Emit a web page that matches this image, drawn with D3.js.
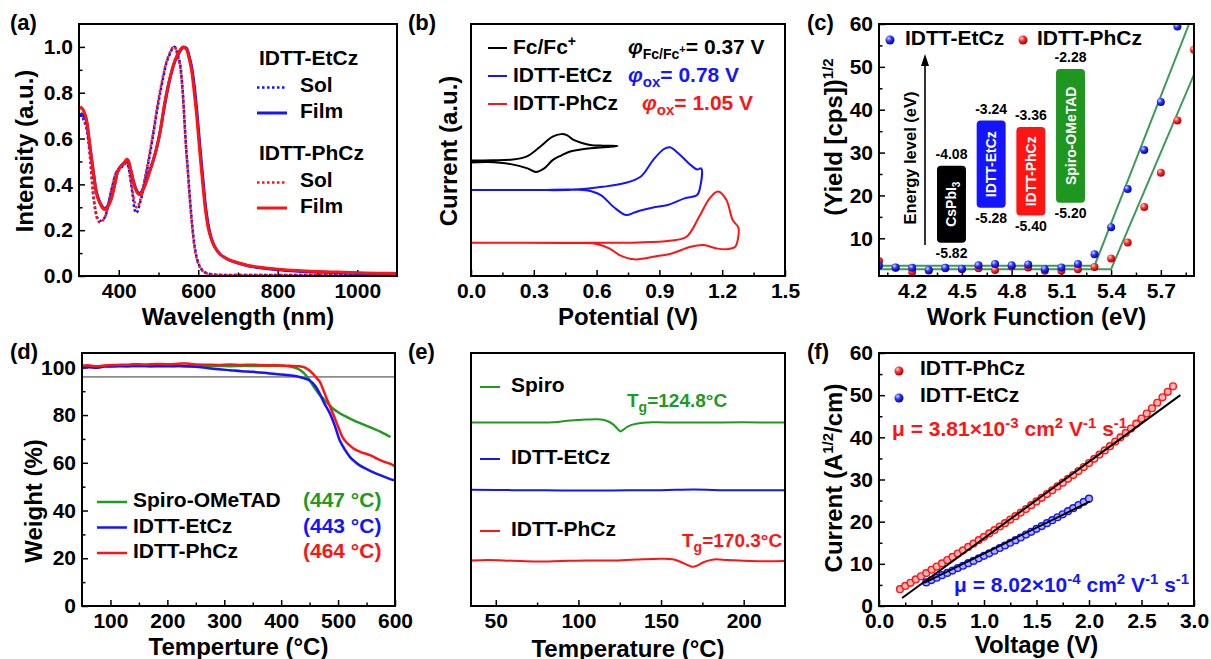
<!DOCTYPE html>
<html>
<head>
<meta charset="utf-8">
<script src="https://cdn.jsdelivr.net/npm/d3@7"></script>
<style>
  body { margin: 0; background: #fff; }
  svg text { font-family: Arial, "Liberation Sans", sans-serif; font-weight: bold; }
</style>
</head>
<body>
<div id="chart"></div>
<script>
/*
* Six panel materials figure: absorption, CV, PESA, TGA, DSC, SCLC
*/

const BLUE = '#1414ff';
const RED = '#ff1414';
const GREEN = '#1f9a1f';
const FIT = '#3c9a58';

// (a) UV-vis absorption
const filmWl = [300, 306, 312, 318, 324, 331, 338, 344, 352, 360, 365, 372, 381, 390, 398, 406, 414, 420, 424, 428, 432, 436, 442, 448, 453, 458, 465, 475, 491, 503, 516, 528, 541, 552, 562, 570, 577, 583, 590, 596, 600, 606, 612, 618, 625, 633, 642, 655, 675, 700, 726, 760, 800, 850, 900, 950, 1000, 1050, 1100];
const filmEt = [0.70, 0.705, 0.70, 0.68, 0.61, 0.52, 0.43, 0.365, 0.325, 0.30, 0.295, 0.305, 0.34, 0.40, 0.46, 0.48, 0.495, 0.505, 0.50, 0.475, 0.45, 0.42, 0.385, 0.365, 0.36, 0.37, 0.395, 0.445, 0.53, 0.62, 0.75, 0.855, 0.935, 0.975, 0.998, 0.995, 0.96, 0.915, 0.83, 0.73, 0.65, 0.53, 0.42, 0.31, 0.225, 0.165, 0.126, 0.095, 0.072, 0.056, 0.044, 0.035, 0.027, 0.021, 0.017, 0.014, 0.012, 0.010, 0.009];
const filmPh = [0.73, 0.735, 0.72, 0.69, 0.62, 0.52, 0.43, 0.36, 0.32, 0.295, 0.29, 0.30, 0.335, 0.40, 0.46, 0.48, 0.495, 0.51, 0.505, 0.48, 0.45, 0.42, 0.38, 0.36, 0.355, 0.365, 0.39, 0.44, 0.53, 0.62, 0.76, 0.86, 0.94, 0.98, 1.0, 0.99, 0.95, 0.90, 0.80, 0.70, 0.62, 0.50, 0.39, 0.29, 0.21, 0.16, 0.124, 0.095, 0.073, 0.058, 0.046, 0.037, 0.030, 0.024, 0.020, 0.017, 0.014, 0.012, 0.011];
const solWl = [300, 306, 312, 318, 323, 329, 335, 341, 347, 352, 358, 365, 371, 377, 385, 394, 402, 410, 416, 420, 424, 428, 432, 436, 440, 444, 448, 452, 457, 465, 474, 486, 499, 510, 520, 530, 536, 541, 546, 550, 554, 558, 562, 566, 570, 574, 579, 585, 591, 597, 603, 608, 615, 622, 633, 650, 700, 800, 900, 1000, 1100];
const solEt = [0.70, 0.70, 0.68, 0.65, 0.60, 0.50, 0.37, 0.29, 0.25, 0.24, 0.245, 0.256, 0.29, 0.34, 0.40, 0.45, 0.465, 0.48, 0.49, 0.495, 0.48, 0.44, 0.39, 0.34, 0.29, 0.275, 0.285, 0.31, 0.34, 0.41, 0.49, 0.61, 0.75, 0.85, 0.93, 0.975, 0.995, 1.0, 0.98, 0.955, 0.93, 0.87, 0.78, 0.66, 0.55, 0.46, 0.34, 0.22, 0.13, 0.075, 0.045, 0.03, 0.018, 0.012, 0.008, 0.005, 0.004, 0.004, 0.004, 0.004, 0.004];
const solPh = [0.72, 0.71, 0.69, 0.655, 0.60, 0.50, 0.37, 0.29, 0.245, 0.235, 0.24, 0.256, 0.29, 0.34, 0.40, 0.455, 0.47, 0.485, 0.49, 0.495, 0.48, 0.45, 0.40, 0.355, 0.32, 0.30, 0.30, 0.32, 0.35, 0.42, 0.50, 0.62, 0.76, 0.86, 0.935, 0.98, 0.998, 1.0, 0.975, 0.95, 0.92, 0.86, 0.77, 0.65, 0.54, 0.45, 0.33, 0.21, 0.12, 0.07, 0.042, 0.028, 0.017, 0.011, 0.007, 0.005, 0.004, 0.004, 0.004, 0.004, 0.004];

// (b) cyclic voltammetry, closed loops (V, current a.u.)
const cvFcV = [0, 0.10, 0.20, 0.27, 0.33, 0.39, 0.43, 0.46, 0.49, 0.53, 0.57, 0.63, 0.70, 0.65, 0.57, 0.51, 0.47, 0.43, 0.39, 0.35, 0.31, 0.27, 0.19, 0.08, 0];
const cvFcI = [4.58, 4.59, 4.62, 4.76, 5.13, 5.53, 5.63, 5.58, 5.40, 5.28, 5.20, 5.17, 5.16, 5.12, 5.07, 5.00, 4.93, 4.78, 4.60, 4.27, 4.13, 4.27, 4.44, 4.52, 4.50];
const cvEtV = [0, 0.30, 0.48, 0.63, 0.73, 0.81, 0.87, 0.92, 0.95, 0.99, 1.05, 1.08, 1.10, 1.095, 1.08, 1.02, 0.94, 0.87, 0.81, 0.78, 0.74, 0.68, 0.62, 0.55, 0.30, 0];
const cvEtI = [3.41, 3.41, 3.42, 3.54, 3.68, 3.94, 4.60, 5.03, 5.11, 4.87, 4.40, 4.23, 4.27, 3.54, 3.21, 3.08, 2.82, 2.72, 2.60, 2.52, 2.42, 2.75, 3.21, 3.40, 3.41, 3.41];
const cvPhV = [0, 0.40, 0.80, 0.95, 1.03, 1.09, 1.14, 1.18, 1.22, 1.25, 1.277, 1.278, 1.262, 1.22, 1.17, 1.11, 1.05, 0.95, 0.89, 0.78, 0.71, 0.66, 0.60, 0.50, 0];
const cvPhI = [1.32, 1.32, 1.33, 1.40, 1.56, 2.35, 3.08, 3.35, 3.02, 2.22, 1.93, 1.63, 1.16, 1.06, 1.10, 1.23, 1.16, 0.87, 0.79, 0.66, 0.83, 1.10, 1.27, 1.31, 1.32];

// (c) photoelectron yield
const wfEt = [4.0, 4.1, 4.2, 4.3, 4.4, 4.5, 4.6, 4.7, 4.8, 4.9, 5.0, 5.1, 5.2, 5.3, 5.4, 5.5, 5.6, 5.7, 5.8];
const yieldEt = [3.6, 3.2, 3.1, 2.6, 3.1, 2.9, 3.7, 4.0, 3.7, 3.9, 2.8, 3.2, 4.0, 6.3, 12.6, 21.5, 30.6, 41.8, 59.4];
const wfPh = [4.0, 4.1, 4.2, 4.3, 4.4, 4.5, 4.6, 4.7, 4.8, 4.9, 5.0, 5.1, 5.2, 5.3, 5.4, 5.5, 5.6, 5.7, 5.8, 5.9];
const yieldPh = [4.7, 3.1, 2.2, 2.5, 3.0, 2.8, 3.0, 2.6, 3.4, 3.2, 2.4, 2.4, 2.8, 3.3, 5.3, 9.0, 17.3, 25.3, 37.5, 54.0];
const fitEtX = [4.0, 5.30, 5.87];
const fitEtY = [3.6, 3.6, 60];
const fitPhX = [4.0, 5.40, 5.90];
const fitPhY = [2.8, 2.8, 48.2];
// energy level inset
const levelNames = ['CsPbI3', 'IDTT-EtCz', 'IDTT-PhCz', 'Spiro-OMeTAD'];
const levelLumo = [-4.08, -3.24, -3.36, -2.28];
const levelHomo = [-5.82, -5.28, -5.40, -5.20];
const levelColors = ['#000000', '#1414ff', '#ff1414', '#1f961f'];

// (d) TGA
const tgaSpT = [50, 70, 90, 110, 130, 150, 170, 190, 210, 230, 250, 270, 290, 310, 330, 350, 370, 390, 400, 410, 420, 430, 440, 447, 456, 465, 474, 483, 492, 500, 515, 530, 545, 560, 575, 592];
const tgaSpW = [100.5, 100.3, 100.6, 100.4, 100.5, 100.6, 100.5, 100.4, 100.6, 100.5, 100.6, 100.5, 100.6, 100.5, 100.6, 100.6, 100.6, 100.6, 100.6, 100.5, 100.1, 99.3, 97.6, 95.6, 92.3, 89.3, 86.9, 84.6, 82.5, 81.2, 79.2, 77.5, 76.0, 74.5, 73.0, 70.8];
const tgaEtT = [50, 60, 75, 90, 110, 130, 150, 170, 190, 210, 230, 250, 270, 290, 310, 330, 350, 370, 390, 410, 427, 440, 450, 460, 468, 476, 486, 495, 503, 512, 521, 530, 538, 550, 562, 574, 586, 600];
const tgaEtW = [99.6, 100.0, 99.8, 100.3, 100.5, 100.5, 100.6, 100.5, 100.6, 100.5, 100.5, 100.2, 99.7, 99.2, 98.8, 98.4, 98.1, 97.7, 97.2, 96.8, 96.3, 95.4, 94.5, 92.2, 88.8, 84.8, 80.5, 75.0, 69.3, 65.5, 62.4, 60.4, 58.9, 57.4, 56.0, 54.8, 53.7, 52.5];
const tgaPhT = [50, 60, 75, 90, 110, 130, 140, 160, 180, 200, 220, 234, 250, 270, 290, 310, 330, 350, 370, 390, 410, 421, 432, 440, 448, 456, 462, 468, 474, 480, 486, 492, 500, 509, 518, 527, 540, 556, 575, 597, 600];
const tgaPhW = [100.6, 100.9, 100.4, 100.8, 101.0, 101.1, 101.3, 101.2, 101.4, 101.3, 101.5, 101.6, 101.2, 101.1, 101.0, 101.2, 101.0, 101.1, 100.9, 100.9, 100.7, 100.6, 100.4, 100.1, 99.0, 97.3, 95.6, 93.9, 90.5, 86.9, 83.5, 80.0, 75.2, 70.2, 67.8, 66.0, 64.5, 63.2, 61.0, 59.0, 58.3];
const tgaRef = 96;
const tdNames = ['Spiro-OMeTAD', 'IDTT-EtCz', 'IDTT-PhCz'];
const tdValues = ['(447 °C)', '(443 °C)', '(464 °C)'];

// (e) DSC (heat flow, a.u.)
const dscSpT = [35, 50, 70, 85, 95, 105, 112, 117, 121, 124, 125.5, 127, 130, 135, 145, 160, 180, 200, 225];
const dscSpH = [7.25, 7.25, 7.25, 7.26, 7.33, 7.37, 7.38, 7.32, 7.18, 6.98, 6.90, 6.96, 7.10, 7.20, 7.26, 7.25, 7.25, 7.26, 7.25];
const dscEtT = [35, 60, 90, 120, 150, 170, 185, 225];
const dscEtH = [4.59, 4.58, 4.57, 4.57, 4.58, 4.60, 4.58, 4.58];
const dscPhT = [35, 45, 60, 75, 90, 105, 120, 135, 150, 157, 162, 166, 169, 172, 176, 182, 190, 200, 212, 225];
const dscPhH = [1.80, 1.82, 1.79, 1.76, 1.78, 1.80, 1.80, 1.84, 1.87, 1.85, 1.74, 1.62, 1.55, 1.60, 1.74, 1.84, 1.82, 1.79, 1.77, 1.78];

// (f) SCLC
const sclcPhV = [0.20, 0.25, 0.30, 0.35, 0.40, 0.45, 0.50, 0.55, 0.60, 0.65, 0.70, 0.75, 0.80, 0.85, 0.90, 0.95, 1.00, 1.05, 1.10, 1.15, 1.20, 1.25, 1.30, 1.35, 1.40, 1.45, 1.50, 1.55, 1.60, 1.65, 1.70, 1.75, 1.80, 1.85, 1.90, 1.95, 2.00, 2.05, 2.10, 2.15, 2.20, 2.25, 2.30, 2.35, 2.40, 2.45, 2.50, 2.55, 2.60, 2.65, 2.70, 2.75, 2.80];
const sclcPhI = [4.0, 4.75, 5.5, 6.3, 7.05, 7.8, 8.6, 9.35, 10.1, 10.9, 11.65, 12.45, 13.2, 14.0, 14.8, 15.6, 16.4, 17.2, 18.0, 18.85, 19.65, 20.5, 21.3, 22.15, 23.0, 23.9, 24.8, 25.65, 26.55, 27.45, 28.35, 29.25, 30.15, 31.05, 32.0, 32.95, 33.9, 34.9, 35.9, 36.9, 37.9, 39.0, 40.0, 41.05, 42.1, 43.25, 44.45, 45.65, 46.9, 48.2, 49.5, 50.8, 52.1];
const sclcEtV = [0.45, 0.50, 0.55, 0.60, 0.65, 0.70, 0.75, 0.80, 0.85, 0.90, 0.95, 1.00, 1.05, 1.10, 1.15, 1.20, 1.25, 1.30, 1.35, 1.40, 1.45, 1.50, 1.55, 1.60, 1.65, 1.70, 1.75, 1.80, 1.85, 1.90, 1.95, 2.00];
const sclcEtI = [5.6, 6.15, 6.7, 7.3, 7.85, 8.4, 9.0, 9.55, 10.15, 10.7, 11.3, 11.9, 12.5, 13.1, 13.75, 14.35, 15.0, 15.6, 16.25, 16.95, 17.6, 18.3, 18.95, 19.65, 20.35, 21.05, 21.75, 22.5, 23.2, 23.95, 24.7, 25.45];
const sclcFitPhV = [0.22, 2.87];
const sclcFitPhI = [1.9, 50.0];
const sclcFitEtV = [0.43, 2.01];
const sclcFitEtI = [5.5, 24.8];

let svg = d3.select('#chart').append('svg')
  .attr('width', 1211)
  .attr('height', 659);
let defs = svg.append('defs');

function sphere(id, light, mid, dark) {
  let gr = defs.append('radialGradient').attr('id', id)
    .attr('cx', '35%').attr('cy', '32%').attr('r', '70%');
  gr.append('stop').attr('offset', '0%').attr('stop-color', light);
  gr.append('stop').attr('offset', '45%').attr('stop-color', mid);
  gr.append('stop').attr('offset', '100%').attr('stop-color', dark);
}
sphere('ballBlue', '#d8dcff', '#2a36ff', '#0000a8');
sphere('ballRed', '#ffd8d8', '#ff2a2a', '#a80000');

function zip(xs, ys) {
  return xs.map(function (v, i) { return [v, ys[i]]; });
}

function makePanel(id, box, label, xDomain, yDomain) {
  defs.append('clipPath').attr('id', 'clip-' + id)
    .append('rect').attr('width', box.w).attr('height', box.h);
  let g = svg.append('g').attr('transform', 'translate(' + box.x + ',' + box.y + ')');
  let p = {
    g: g,
    w: box.w,
    h: box.h,
    x: d3.scaleLinear().domain(xDomain).range([0, box.w]),
    y: d3.scaleLinear().domain(yDomain).range([box.h, 0])
  };
  p.axes = g.append('g');
  p.plot = g.append('g').attr('clip-path', 'url(#clip-' + id + ')');
  p.top = g.append('g');
  svg.append('text')
    .attr('x', box.x - label.dx)
    .attr('y', box.y + 6)
    .attr('font-size', 22)
    .text(label.t);
  return p;
}

function styleAxis(sel) {
  sel.select('.domain').remove();
  sel.attr('font-size', 21).attr('font-family', null);
  sel.selectAll('line').attr('stroke', '#000').attr('stroke-width', 1.5);
}

function xAxis(p, major, minor, fmt) {
  p.axes.append('g')
    .attr('transform', 'translate(0,' + p.h + ')')
    .call(d3.axisBottom(p.x).tickValues(minor).tickSize(-3.5).tickFormat(''))
    .call(styleAxis);
  p.axes.append('g')
    .attr('transform', 'translate(0,' + p.h + ')')
    .call(d3.axisBottom(p.x).tickValues(major).tickSize(-6).tickPadding(7).tickFormat(fmt))
    .call(styleAxis);
}

function yAxis(p, major, minor, fmt) {
  p.axes.append('g')
    .call(d3.axisLeft(p.y).tickValues(minor).tickSize(-3.5).tickFormat(''))
    .call(styleAxis);
  p.axes.append('g')
    .call(d3.axisLeft(p.y).tickValues(major).tickSize(-6).tickPadding(6).tickFormat(fmt))
    .call(styleAxis);
}

function frame(p) {
  p.top.append('rect')
    .attr('width', p.w).attr('height', p.h)
    .attr('fill', 'none').attr('stroke', '#000').attr('stroke-width', 2);
}

// text with sub / superscripts: parts = [{t, shift, size, it}]
function rich(g, x, y, size, parts) {
  let t = g.append('text').attr('x', x).attr('y', y).attr('font-size', size);
  let shift = 0;
  parts.forEach(function (part) {
    let s = part.shift || 0;
    let ts = t.append('tspan').attr('dy', s - shift).text(part.t);
    if (part.size) ts.attr('font-size', part.size);
    if (part.it) ts.attr('font-style', 'italic');
    shift = s;
  });
  return t;
}

function xTitle(p, text, dy) {
  p.g.append('text')
    .attr('x', p.w / 2).attr('y', p.h + dy)
    .attr('text-anchor', 'middle').attr('font-size', 24)
    .text(text);
}

function yTitle(p, parts, dx, cy) {
  let t = rich(p.g, 0, 0, 24, parts);
  t.attr('text-anchor', 'middle')
    .attr('transform', 'translate(' + (-dx) + ',' + cy + ') rotate(-90)');
}

function curve(p, data, color, width, dash, smooth) {
  let line = d3.line()
    .x(function (d) { return p.x(d[0]); })
    .y(function (d) { return p.y(d[1]); });
  if (smooth) line.curve(d3.curveCatmullRom.alpha(0.5));
  let path = p.plot.append('path')
    .datum(data)
    .attr('d', line)
    .attr('fill', 'none')
    .attr('stroke', color)
    .attr('stroke-width', width)
    .attr('stroke-linejoin', 'round');
  if (dash) path.attr('stroke-dasharray', dash);
  return path;
}

function legendLine(g, x1, x2, y, color, width, dash) {
  let l = g.append('line')
    .attr('x1', x1).attr('x2', x2).attr('y1', y).attr('y2', y)
    .attr('stroke', color).attr('stroke-width', width);
  if (dash) l.attr('stroke-dasharray', dash);
}

function label(g, x, y, text, color, size) {
  return g.append('text').attr('x', x).attr('y', y)
    .attr('font-size', size || 21).attr('fill', color || '#000').text(text);
}

/* ---------- (a) ---------- */
let pa = makePanel('a', { x: 79, y: 24, w: 318, h: 252 }, { t: '(a)', dx: 69 }, [300, 1100], [0, 1.1]);
xAxis(pa, [400, 600, 800, 1000], [500, 700, 900], d3.format('d'));
yAxis(pa, [0, 0.2, 0.4, 0.6, 0.8, 1.0], [0.1, 0.3, 0.5, 0.7, 0.9], d3.format('.1f'));
curve(pa, zip(solWl, solEt), BLUE, 2.6, '2.5 2.5', true);
curve(pa, zip(solWl, solPh), RED, 2.6, '2.5 2.5', true).attr('stroke-dashoffset', 2.5);
curve(pa, zip(filmWl, filmEt), BLUE, 3, null, true);
curve(pa, zip(filmWl, filmPh), RED, 3, null, true);
label(pa.g, 180, 41, 'IDTT-EtCz');
label(pa.g, 221, 68, 'Sol');
label(pa.g, 221, 94, 'Film');
label(pa.g, 180, 136, 'IDTT-PhCz');
label(pa.g, 221, 163, 'Sol');
label(pa.g, 221, 189, 'Film');
legendLine(pa.g, 178, 208, 63.5, BLUE, 2.6, '2.5 2.5');
legendLine(pa.g, 178, 208, 89, BLUE, 3);
legendLine(pa.g, 178, 208, 158.5, RED, 2.6, '2.5 2.5');
legendLine(pa.g, 178, 208, 184, RED, 3);
xTitle(pa, 'Wavelength (nm)', 49);
yTitle(pa, [{ t: 'Intensity (a.u.)' }], 46, 127);
frame(pa);

/* ---------- (b) ---------- */
let pb = makePanel('b', { x: 471, y: 24, w: 314, h: 252 }, { t: '(b)', dx: 63 }, [0, 1.5], [0, 10]);
xAxis(pb, [0, 0.3, 0.6, 0.9, 1.2, 1.5], [0.15, 0.45, 0.75, 1.05, 1.35], d3.format('.1f'));
curve(pb, zip(cvFcV, cvFcI), '#000', 2, null, true);
curve(pb, zip(cvEtV, cvEtI), BLUE, 2, null, true);
curve(pb, zip(cvPhV, cvPhI), RED, 2, null, true);
legendLine(pb.g, 17, 36, 24, '#000', 2);
legendLine(pb.g, 17, 36, 52, BLUE, 2);
legendLine(pb.g, 17, 36, 80, RED, 2);
rich(pb.g, 42, 30, 21, [{ t: 'Fc/Fc' }, { t: '+', size: 14, shift: -8 }]);
label(pb.g, 42, 58, 'IDTT-EtCz');
label(pb.g, 42, 86, 'IDTT-PhCz');
rich(pb.g, 157, 30, 21, [{ t: 'φ', it: true }, { t: 'Fc/Fc', size: 14, shift: 5 }, { t: '+', size: 11, shift: -1 }, { t: '= 0.37 V', shift: 0 }]);
rich(pb.g, 157, 58, 21, [{ t: 'φ', it: true }, { t: 'ox', size: 15, shift: 5 }, { t: '= 0.78 V', shift: 0 }]).attr('fill', BLUE);
rich(pb.g, 171, 86, 21, [{ t: 'φ', it: true }, { t: 'ox', size: 15, shift: 5 }, { t: '= 1.05 V', shift: 0 }]).attr('fill', RED);
xTitle(pb, 'Potential (V)', 49);
yTitle(pb, [{ t: 'Current (a.u.)' }], 14, 127);
frame(pb);

/* ---------- (c) ---------- */
let pc = makePanel('c', { x: 879, y: 24, w: 315, h: 252 }, { t: '(c)', dx: 72 }, [4.0, 5.9], [1.2, 60]);
xAxis(pc, [4.2, 4.5, 4.8, 5.1, 5.4, 5.7], [4.05, 4.35, 4.65, 4.95, 5.25, 5.55, 5.85], d3.format('.1f'));
yAxis(pc, [10, 20, 30, 40, 50, 60], [5, 15, 25, 35, 45, 55], d3.format('d'));
curve(pc, zip(fitEtX, fitEtY), FIT, 2);
curve(pc, zip(fitPhX, fitPhY), FIT, 2);
pc.plot.selectAll('.ptPh').data(zip(wfPh, yieldPh)).enter().append('circle')
  .attr('cx', function (d) { return pc.x(d[0]); })
  .attr('cy', function (d) { return pc.y(d[1]); })
  .attr('r', 4).attr('fill', 'url(#ballRed)');
pc.plot.selectAll('.ptEt').data(zip(wfEt, yieldEt)).enter().append('circle')
  .attr('cx', function (d) { return pc.x(d[0]); })
  .attr('cy', function (d) { return pc.y(d[1]); })
  .attr('r', 4).attr('fill', 'url(#ballBlue)');
pc.g.append('circle').attr('cx', 11).attr('cy', 16).attr('r', 4.5).attr('fill', 'url(#ballBlue)');
label(pc.g, 26, 21, 'IDTT-EtCz');
pc.g.append('circle').attr('cx', 144).attr('cy', 16).attr('r', 4.5).attr('fill', 'url(#ballRed)');
label(pc.g, 158, 21, 'IDTT-PhCz');

// energy level inset, schematic (non-uniform) energy axis
let eY = d3.scaleLinear().domain([-2.28, -4.08, -5.20, -5.82]).range([45, 141.7, 178.7, 218.7]);
let eX = d3.scaleBand().domain(levelNames).range([58, 206]).paddingInner(0.27);
pc.g.append('line').attr('x1', 46).attr('x2', 46).attr('y1', 221).attr('y2', 38)
  .attr('stroke', '#000').attr('stroke-width', 1.6);
pc.g.append('path').attr('d', d3.line()([[42, 42], [46, 30], [50, 42]])).attr('fill', '#000');
pc.g.append('text').attr('font-size', 16.5).attr('text-anchor', 'middle')
  .attr('transform', 'translate(37,134) rotate(-90)').text('Energy level (eV)');
let lv = pc.g.selectAll('.level').data(levelNames).enter().append('g');
lv.append('rect')
  .attr('x', function (d) { return eX(d); })
  .attr('y', function (d, i) { return eY(levelLumo[i]); })
  .attr('width', eX.bandwidth())
  .attr('height', function (d, i) { return eY(levelHomo[i]) - eY(levelLumo[i]); })
  .attr('rx', 4)
  .attr('fill', function (d, i) { return levelColors[i]; });
lv.append('text')
  .attr('x', function (d) { return eX(d) + eX.bandwidth() / 2; })
  .attr('y', function (d, i) { return eY(levelLumo[i]) - 7; })
  .attr('text-anchor', 'middle').attr('font-size', 14)
  .text(function (d, i) { return levelLumo[i].toFixed(2); });
lv.append('text')
  .attr('x', function (d) { return eX(d) + eX.bandwidth() / 2; })
  .attr('y', function (d, i) { return eY(levelHomo[i]) + 15; })
  .attr('text-anchor', 'middle').attr('font-size', 14)
  .text(function (d, i) { return levelHomo[i].toFixed(2); });
lv.each(function (d, i) {
  let cx = eX(d) + eX.bandwidth() / 2 + 5;
  let cy = (eY(levelLumo[i]) + eY(levelHomo[i])) / 2;
  let parts = d === 'CsPbI3' ? [{ t: 'CsPbI' }, { t: '3', size: 10, shift: 4 }] : [{ t: d }];
  rich(d3.select(this), 0, 0, 14, parts)
    .attr('fill', '#fff').attr('text-anchor', 'middle')
    .attr('transform', 'translate(' + cx + ',' + cy + ') rotate(-90)');
});
xTitle(pc, 'Work Function (eV)', 49);
yTitle(pc, [{ t: '(Yield [cps])' }, { t: '1/2', size: 15, shift: -9 }], 37, 113);
frame(pc);

/* ---------- (d) ---------- */
let pd = makePanel('d', { x: 82, y: 353, w: 313, h: 253 }, { t: '(d)', dx: 72 }, [50, 600], [0, 106]);
xAxis(pd, [100, 200, 300, 400, 500, 600], [150, 250, 350, 450, 550], d3.format('d'));
yAxis(pd, [0, 20, 40, 60, 80, 100], [10, 30, 50, 70, 90], d3.format('d'));
curve(pd, [[50, tgaRef], [600, tgaRef]], '#8c8c8c', 1.6);
curve(pd, zip(tgaSpT, tgaSpW), GREEN, 2.5, null, true);
curve(pd, zip(tgaEtT, tgaEtW), BLUE, 2.5, null, true);
curve(pd, zip(tgaPhT, tgaPhW), RED, 2.5, null, true);
[GREEN, BLUE, RED].forEach(function (c, i) {
  let by = 154 + i * 25.5;
  legendLine(pd.g, 15, 45, by - 5, c, 2.5);
  label(pd.g, 51, by, tdNames[i]);
  label(pd.g, 221, by, tdValues[i], c);
});
xTitle(pd, 'Temperture (°C)', 49);
yTitle(pd, [{ t: 'Weight (%)' }], 40, 148);
frame(pd);

/* ---------- (e) ---------- */
let pe = makePanel('e', { x: 471, y: 353, w: 314, h: 253 }, { t: '(e)', dx: 63 }, [35, 225], [0, 10]);
xAxis(pe, [50, 100, 150, 200], [75, 125, 175], d3.format('d'));
curve(pe, zip(dscSpT, dscSpH), GREEN, 2, null, true);
curve(pe, zip(dscEtT, dscEtH), BLUE, 2, null, true);
curve(pe, zip(dscPhT, dscPhH), RED, 2, null, true);
legendLine(pe.g, 9, 29, 34, GREEN, 2);
legendLine(pe.g, 9, 29, 106, BLUE, 2);
legendLine(pe.g, 9, 29, 178, RED, 2);
label(pe.g, 40, 39, 'Spiro');
label(pe.g, 40, 111, 'IDTT-EtCz');
label(pe.g, 40, 183, 'IDTT-PhCz');
rich(pe.g, 156, 54, 19, [{ t: 'T' }, { t: 'g', size: 14, shift: 5 }, { t: '=124.8°C', shift: 0 }]).attr('fill', GREEN);
rich(pe.g, 211, 194, 19, [{ t: 'T' }, { t: 'g', size: 14, shift: 5 }, { t: '=170.3°C', shift: 0 }]).attr('fill', RED);
xTitle(pe, 'Temperature (°C)', 51);
frame(pe);

/* ---------- (f) ---------- */
let pf = makePanel('f', { x: 879, y: 353, w: 315, h: 253 }, { t: '(f)', dx: 72 }, [0, 3.0], [0, 60]);
xAxis(pf, [0, 0.5, 1.0, 1.5, 2.0, 2.5, 3.0], [0.25, 0.75, 1.25, 1.75, 2.25, 2.75], d3.format('.1f'));
yAxis(pf, [0, 10, 20, 30, 40, 50, 60], [5, 15, 25, 35, 45, 55], d3.format('d'));
pf.plot.selectAll('.sPh').data(zip(sclcPhV, sclcPhI)).enter().append('circle')
  .attr('cx', function (d) { return pf.x(d[0]); })
  .attr('cy', function (d) { return pf.y(d[1]); })
  .attr('r', 3.4).attr('fill', '#ffb4b4').attr('stroke', RED).attr('stroke-width', 1.4);
pf.plot.selectAll('.sEt').data(zip(sclcEtV, sclcEtI)).enter().append('circle')
  .attr('cx', function (d) { return pf.x(d[0]); })
  .attr('cy', function (d) { return pf.y(d[1]); })
  .attr('r', 3.4).attr('fill', '#aab0ff').attr('stroke', BLUE).attr('stroke-width', 1.4);
curve(pf, zip(sclcFitPhV, sclcFitPhI), '#000', 2);
curve(pf, zip(sclcFitEtV, sclcFitEtI), '#000', 2);
pf.g.append('circle').attr('cx', 20).attr('cy', 18).attr('r', 4.5).attr('fill', 'url(#ballRed)');
label(pf.g, 41, 22, 'IDTT-PhCz');
pf.g.append('circle').attr('cx', 20).attr('cy', 45).attr('r', 4.5).attr('fill', 'url(#ballBlue)');
label(pf.g, 41, 49, 'IDTT-EtCz');
rich(pf.g, 13, 83, 21, [{ t: 'μ = 3.81×10' }, { t: '-3', size: 15, shift: -8 }, { t: ' cm', shift: 0 }, { t: '2', size: 15, shift: -8 },
  { t: ' V', shift: 0 }, { t: '-1', size: 15, shift: -8 }, { t: ' s', shift: 0 }, { t: '-1', size: 15, shift: -8 }]).attr('fill', RED);
rich(pf.g, 75, 239, 21, [{ t: 'μ = 8.02×10' }, { t: '-4', size: 15, shift: -8 }, { t: ' cm', shift: 0 }, { t: '2', size: 15, shift: -8 },
  { t: ' V', shift: 0 }, { t: '-1', size: 15, shift: -8 }, { t: ' s', shift: 0 }, { t: '-1', size: 15, shift: -8 }]).attr('fill', BLUE);
xTitle(pf, 'Voltage (V)', 47);
yTitle(pf, [{ t: 'Current (A' }, { t: '1/2', size: 15, shift: -9 }, { t: '/cm)', shift: 0 }], 37, 125);
frame(pf);
</script>
</body>
</html>
